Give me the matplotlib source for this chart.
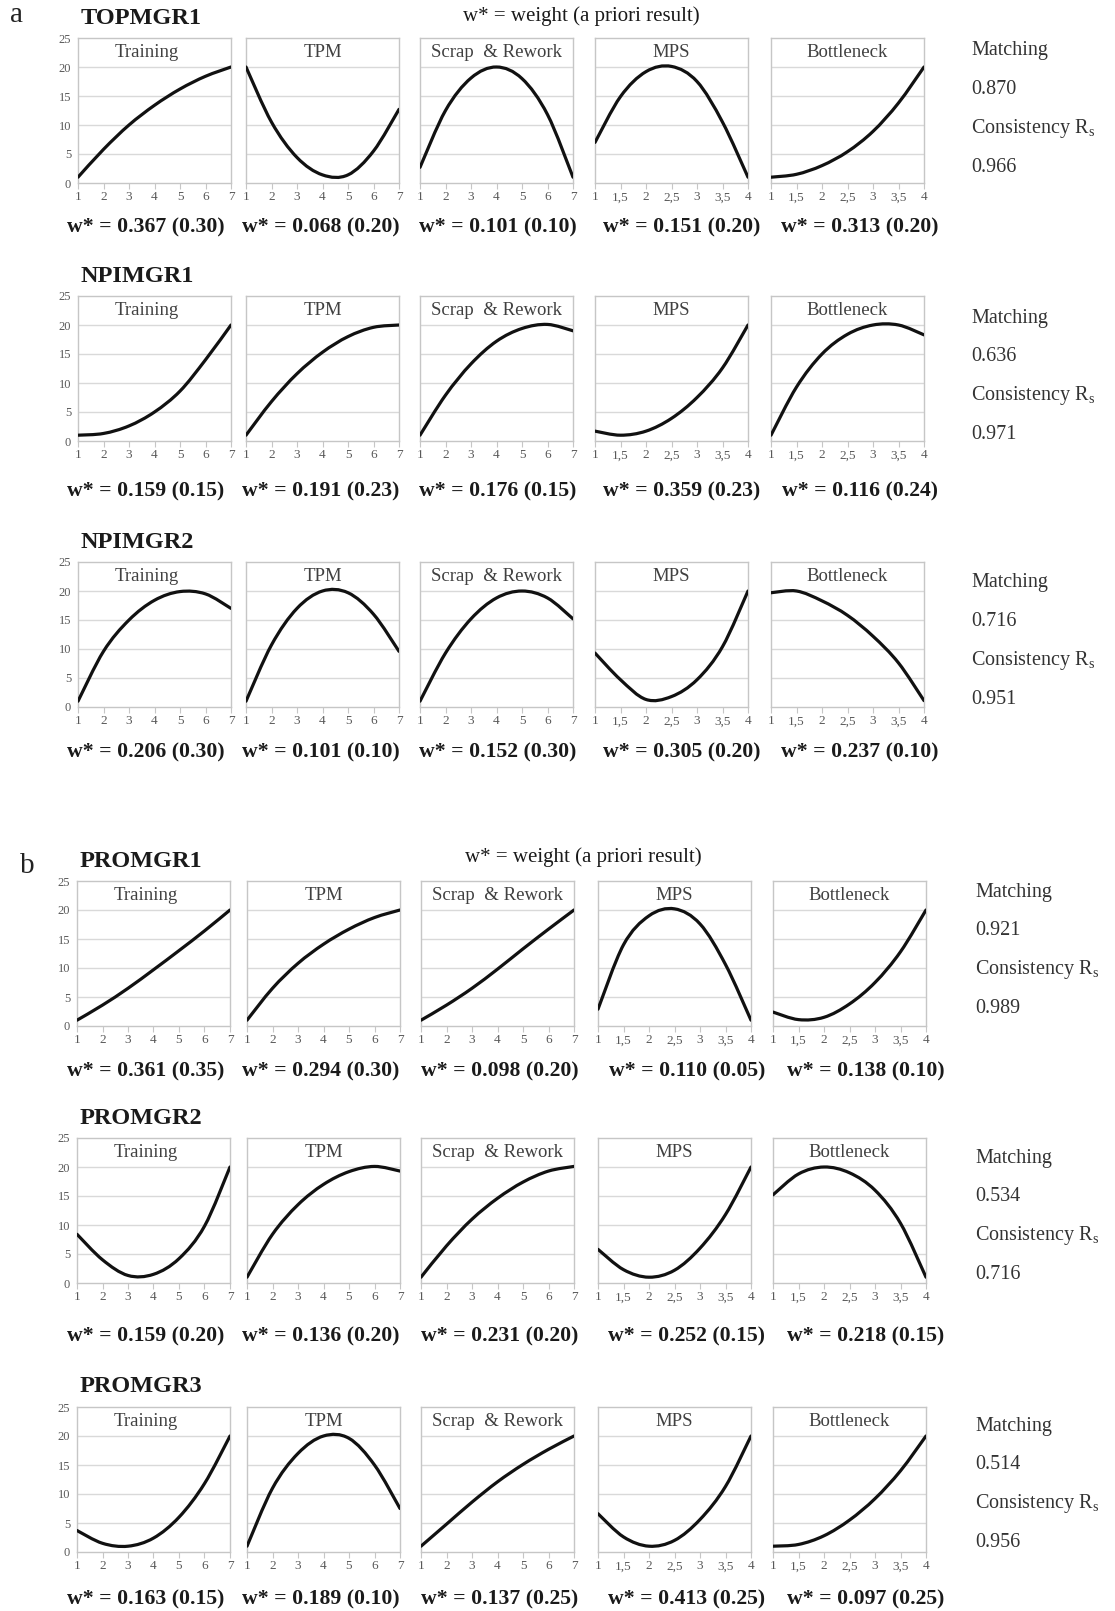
import numpy as np
import matplotlib
matplotlib.use("Agg")
import matplotlib.pyplot as plt
from matplotlib.path import Path
from matplotlib.patches import PathPatch

plt.rcParams['font.family'] = ['Liberation Serif', 'DejaVu Serif']
plt.rcParams['mathtext.fontset'] = 'custom'
plt.rcParams['mathtext.rm'] = 'Liberation Serif'

# ---- data ----
categories = ["Training", "TPM", "Scrap  & Rework", "MPS", "Bottleneck"]
x7 = [1, 2, 3, 4, 5, 6, 7]
x4 = [1, 1.5, 2, 2.5, 3, 3.5, 4]
x7_labels = ["1", "2", "3", "4", "5", "6", "7"]
x4_labels = ["1", "1,5", "2", "2,5", "3", "3,5", "4"]
groups = ["TOPMGR1", "NPIMGR1", "NPIMGR2", "PROMGR1", "PROMGR2", "PROMGR3"]

# utility curves per group: Training, TPM, Scrap & Rework (x 1..7), MPS, Bottleneck (x 1..4)
topmgr1 = [[1, 5.8, 10.0, 13.4, 16.2, 18.4, 20],
           [20, 10.5, 4.4, 1.4, 1.4, 5.5, 12.7],
           [2.7, 12.5, 18.1, 20.0, 18.0, 11.8, 1],
           [7.0, 14.9, 19.2, 20.1, 17.5, 10.5, 1],
           [1.0, 1.5, 3.0, 5.4, 8.9, 13.8, 20]]
npimgr1 = [[1, 1.3, 2.6, 5.0, 8.6, 14.0, 20],
           [1, 6.8, 11.6, 15.3, 18.0, 19.6, 20],
           [1, 7.9, 13.3, 17.2, 19.4, 20.1, 19.0],
           [1.7, 1.0, 1.7, 3.9, 7.5, 12.6, 20],
           [1, 9.3, 15.0, 18.4, 20.0, 20.0, 18.3]]
npimgr2 = [[1, 9.6, 15.0, 18.4, 19.9, 19.5, 17.0],
           [1, 10.7, 17.0, 20.0, 19.7, 16.0, 9.6],
           [1, 9.3, 15.2, 18.8, 20.0, 18.8, 15.2],
           [9.3, 4.7, 1.3, 1.8, 4.7, 10.4, 20],
           [19.7, 20.0, 18.3, 15.8, 12.2, 7.6, 1.1]]
promgr1 = [[1, 3.6, 6.5, 9.7, 13.0, 16.4, 20],
           [1, 6.5, 10.8, 14.1, 16.7, 18.7, 20],
           [1, 3.6, 6.5, 9.8, 13.3, 16.7, 20],
           [2.9, 14.0, 19.0, 20.2, 17.6, 10.6, 1],
           [2.4, 1.1, 1.5, 3.8, 7.5, 12.8, 20]]
promgr2 = [[8.4, 4.0, 1.3, 1.5, 4.2, 9.8, 20],
           [1, 8.4, 13.5, 17.0, 19.2, 20.1, 19.3],
           [1, 6.4, 11.0, 14.6, 17.4, 19.3, 20.1],
           [5.8, 2.3, 1.0, 2.2, 6.0, 11.8, 20],
           [15.2, 18.8, 20.0, 19.0, 16.0, 10.3, 1]]
promgr3 = [[3.7, 1.5, 1.0, 2.4, 6.0, 11.8, 20],
           [1, 11.0, 17.0, 20.0, 19.6, 15.0, 7.5],
           [1, 4.8, 8.6, 12.1, 15.1, 17.7, 20],
           [6.6, 2.6, 1.0, 2.0, 5.6, 11.3, 20],
           [1.0, 1.3, 2.8, 5.5, 9.2, 14.0, 20]]
curves = [topmgr1, npimgr1, npimgr2, promgr1, promgr2, promgr3]

w_result = [[0.367, 0.068, 0.101, 0.151, 0.313],
            [0.159, 0.191, 0.176, 0.359, 0.116],
            [0.206, 0.101, 0.152, 0.305, 0.237],
            [0.361, 0.294, 0.098, 0.110, 0.138],
            [0.159, 0.136, 0.231, 0.252, 0.218],
            [0.163, 0.189, 0.137, 0.413, 0.097]]
w_prior = [[0.30, 0.20, 0.10, 0.20, 0.20],
           [0.15, 0.23, 0.15, 0.23, 0.24],
           [0.30, 0.10, 0.30, 0.20, 0.10],
           [0.35, 0.30, 0.20, 0.05, 0.10],
           [0.20, 0.20, 0.20, 0.15, 0.15],
           [0.15, 0.10, 0.25, 0.25, 0.25]]
matching = [0.870, 0.636, 0.716, 0.921, 0.534, 0.514]
consistency = [0.966, 0.971, 0.951, 0.989, 0.716, 0.956]

# ---- layout in pixels ----
W, H = 1115, 1611
fig = plt.figure(figsize=(W / 100, H / 100), dpi=100)

row_tops = [38, 296, 562, 881, 1138, 1407]
panel_h = 145
panel_w = 153
lefts_a = [78, 246, 420, 595, 771]
lefts_b = [77, 247, 421, 598, 773]
wlab_x_a = [146, 321, 498, 682, 860]
wlab_x_b = [146, 321, 500, 687, 866]
wlabel_gap = [44, 50, 45, 45, 53, 47]
right_gap = [13, 22, 21, 11, 20, 19]

grid_c = '#d9d9d9'
frame_c = '#c6c6c6'
tick_c = '#595959'


def smooth_path(xs, ys):
    # Catmull-Rom style smoothing (like a spreadsheet "smoothed line")
    pts = np.column_stack([xs, ys]).astype(float)
    ext = np.vstack([pts[0], pts, pts[-1]])
    verts = [pts[0]]
    codes = [Path.MOVETO]
    for i in range(len(pts) - 1):
        p0, p1, p2, p3 = ext[i], ext[i + 1], ext[i + 2], ext[i + 3]
        verts += [p1 + (p2 - p0) / 6, p2 - (p3 - p1) / 6, p2]
        codes += [Path.CURVE4] * 3
    return Path(verts, codes)


def fx(px):
    return px / W


def fy(py):
    return 1 - py / H


for r, g in enumerate(groups):
    top = row_tops[r]
    lefts = lefts_a if r < 3 else lefts_b
    wlx = wlab_x_a if r < 3 else wlab_x_b
    fig.text(fx(lefts[0] + 3), fy(top - 20), g, fontsize=17.5, fontweight='bold',
             ha='left', va='center', color='#1a1a1a')
    for c in range(5):
        ax = fig.add_axes([fx(lefts[c]), fy(top + panel_h), panel_w / W, panel_h / H])
        if c < 3:
            xs, xl = x7, x7_labels
        else:
            xs, xl = x4, x4_labels
        ax.set_xlim(xs[0], xs[-1])
        ax.set_ylim(0, 25)
        ax.set_xticks(xs)
        ax.set_xticklabels(xl)
        ax.set_yticks([0, 5, 10, 15, 20, 25])
        for yy in [5, 10, 15, 20]:
            ax.axhline(yy, color=grid_c, lw=1.0, zorder=0)
        for s in ax.spines.values():
            s.set_color(frame_c)
            s.set_linewidth(1.0)
        ax.tick_params(axis='x', colors=frame_c, labelcolor=tick_c, labelsize=9.5,
                       length=4, direction='out', pad=2)
        ax.tick_params(axis='y', length=0, labelcolor=tick_c, labelsize=9, pad=5)
        if c > 0:
            ax.set_yticklabels([])
        ax.add_patch(PathPatch(smooth_path(xs, curves[r][c]), fill=False,
                               lw=2.3, color='#111111', capstyle='round', zorder=3))
        tx = 0.45 if c == 0 else 0.5
        ax.text(tx, 22.5, categories[c], ha='center', va='center',
                fontsize=13.5, color='#404040', transform=ax.get_yaxis_transform())
        label = "w* = %.3f (%.2f)" % (w_result[r][c], w_prior[r][c])
        fig.text(fx(wlx[c]), fy(top + panel_h + wlabel_gap[r]), label,
                 ha='center', va='center', fontsize=15.7, fontweight='bold', color='#1a1a1a')

    # matching / consistency column
    rx = fx(971 + (4 if r >= 3 else 0))
    y0 = top + right_gap[r]
    lines = ["Matching", "%.3f" % matching[r], r"Consistency R$_\mathregular{s}$",
             "%.3f" % consistency[r]]
    for k, t in enumerate(lines):
        fig.text(rx, fy(y0 + 38.8 * k), t, ha='left', va='center', fontsize=14.5,
                 color='#333333')

# section labels and header
fig.text(fx(10), fy(15), "a", fontsize=21, ha='left', va='center', color='#222222')
fig.text(fx(20), fy(866), "b", fontsize=21, ha='left', va='center', color='#222222')
fig.text(fx(581), fy(16), "w* = weight (a priori result)", fontsize=15, ha='center',
         va='center', color='#1a1a1a')
fig.text(fx(583), fy(857), "w* = weight (a priori result)", fontsize=15, ha='center',
         va='center', color='#1a1a1a')

fig.savefig("out.png", dpi=100)
